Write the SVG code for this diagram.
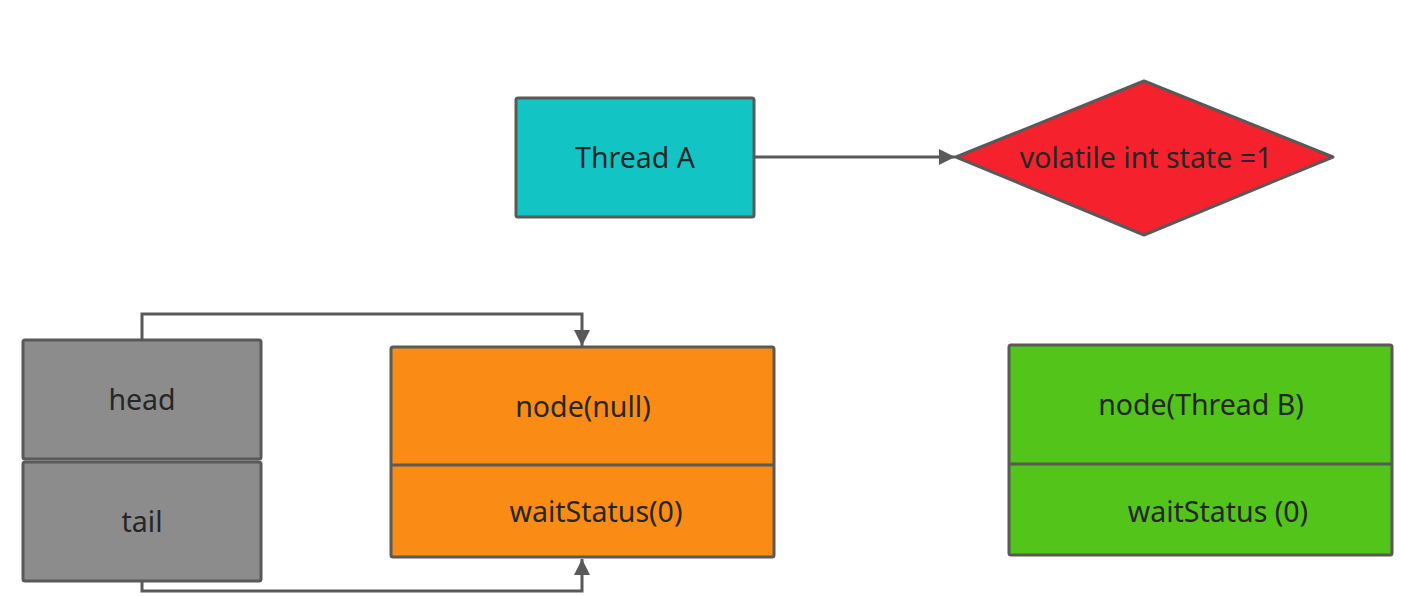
<svg xmlns="http://www.w3.org/2000/svg" width="1401" height="596" viewBox="0 0 1401 596">
<style>
.s{stroke:#595959;stroke-width:3;stroke-linejoin:round}
.t{font-family:"Noto Sans","Open Sans",sans-serif;font-size:28.5px;fill:#262626;text-anchor:middle}
.c{fill:none;stroke:#595959;stroke-width:3}
</style>
<defs>
<marker id="a" viewBox="0 0 10 10" refX="10" refY="5" markerWidth="16" markerHeight="16" markerUnits="userSpaceOnUse" orient="auto">
<path d="M0,0 L10,5 L0,10 Z" fill="#595959"/>
</marker>
</defs>
<rect width="1401" height="596" fill="#fff"/>
<g id="threadA">
<rect class="s" x="516" y="98" width="238" height="119" rx="2" fill="#13C4C4"/>
<text class="t" x="635" y="168">Thread A</text>
</g>
<g id="state">
<polygon class="s" points="956,157 1144,81 1333,157 1144,235" fill="#F5222D"/>
<text class="t" x="1146" y="168">volatile int state =1</text>
</g>
<g id="head">
<rect class="s" x="23" y="340" width="238" height="119" rx="2" fill="#8C8C8C"/>
<text class="t" x="142" y="410">head</text>
</g>
<g id="tail">
<rect class="s" x="23" y="462" width="238" height="119" rx="2" fill="#8C8C8C"/>
<text class="t" x="142" y="532">tail</text>
</g>
<g id="nodeNull">
<rect class="s" x="391" y="347" width="383" height="210" rx="2" fill="#FA8C16"/>
<line class="s" x1="391" y1="465" x2="774" y2="465"/>
<text class="t" x="583" y="417">node(null)</text>
<text class="t" x="596" y="522">waitStatus(0)</text>
</g>
<g id="nodeB">
<rect class="s" x="1009" y="345" width="383" height="210" rx="2" fill="#52C41A"/>
<line class="s" x1="1009" y1="464" x2="1392" y2="464"/>
<text class="t" x="1201" y="415">node(Thread B)</text>
<text class="t" x="1218" y="522">waitStatus (0)</text>
</g>
<g id="connectors">
<line class="c" x1="755" y1="157" x2="955" y2="157" marker-end="url(#a)"/>
<polyline class="c" points="142,340 142,314 582,314 582,346" marker-end="url(#a)"/>
<polyline class="c" points="142,581 142,591 582,591 582,559" marker-end="url(#a)"/>
</g>
</svg>
